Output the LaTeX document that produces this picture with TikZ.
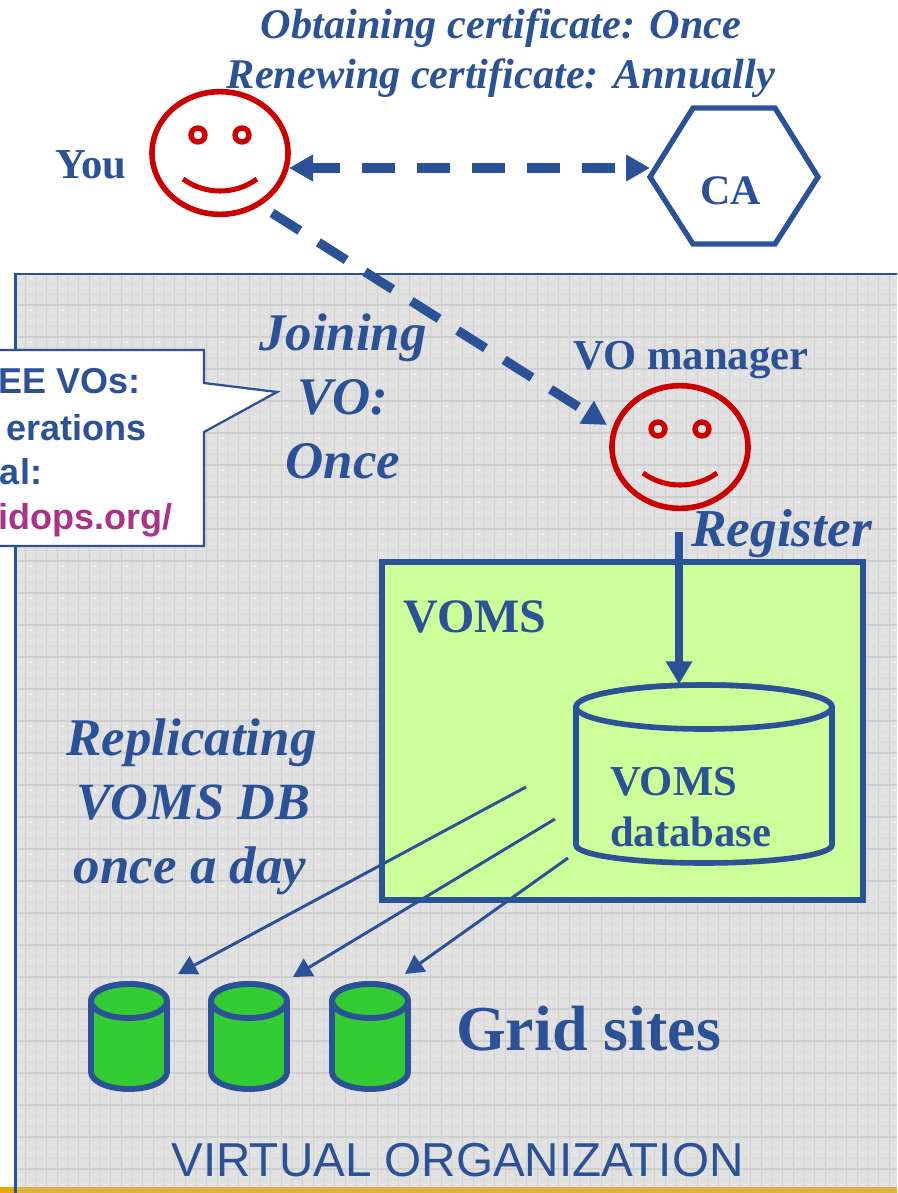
\documentclass[tikz,border=0pt]{standalone}
\usepackage{fontspec}
\setmainfont{Liberation Serif}
\setsansfont{Liberation Sans}
\usetikzlibrary{arrows.meta,shapes.geometric}
\definecolor{bl}{HTML}{2B5297}
\definecolor{rd}{HTML}{CC0000}
\definecolor{mg}{HTML}{AA3388}
\definecolor{lime}{HTML}{CCFF99}
\definecolor{grn}{HTML}{33CC33}
\definecolor{bgg}{HTML}{E1E1E1}
\definecolor{gweak}{HTML}{DBDBDB}
\definecolor{gstrong}{HTML}{D0D0D0}
\definecolor{barL}{HTML}{EBA900}
\definecolor{barR}{HTML}{DDB33F}
\newcommand{\fsz}[1]{\fontsize{#1}{#1}\selectfont}
\tikzset{
  txt/.style={text=bl,inner sep=0pt,outer sep=0pt,anchor=base,align=center},
  ser/.style={txt,font=\rmfamily\bfseries},
  seri/.style={txt,font=\rmfamily\bfseries\itshape},
  san/.style={txt,font=\sffamily\bfseries\fsz{27pt}},
  face/.style={draw=rd,line width=4.2pt,ellipse,minimum width=102pt,minimum height=92pt,inner sep=0pt},
  eye/.style={draw=rd,line width=4pt,circle,minimum size=10.5pt,inner sep=0pt},
  mouth/.style={draw=rd,line width=3.8pt},
  dashline/.style={draw=bl,line width=7pt,dash pattern=on 24.7pt off 16.5pt,
     -{Triangle[length=18pt,width=19pt]}},
  thinarrow/.style={draw=bl,line width=2.2pt,-{Triangle[length=14pt,width=15pt]}},
  thickarrow/.style={draw=bl,line width=6pt,-{Triangle[length=17pt,width=19pt]}},
  dbshape/.style={draw=bl,line width=4.2pt,fill=lime},
  site/.style={draw=bl,line width=4.4pt,fill=grn},
}
\newcommand{\smiley}[3]{%
  \node[face] (#1) at (#2,#3) {};
  \node[eye] (#1eyeL) at (#2-22,#3-18) {};
  \node[eye] (#1eyeR) at (#2+22,#3-18) {};
  \draw[mouth] (#2-37,#3+26) .. controls (#2-15,#3+42) and (#2+15,#3+42) .. (#2+37,#3+26);
}
\newcommand{\sitecyl}[2]{%
  \draw[site] (#1-38,1001) -- (#1-38,1072) arc[start angle=180,end angle=0,x radius=38,y radius=17] -- (#1+38,1001)
     arc[start angle=0,end angle=-180,x radius=38,y radius=17] -- cycle;
  \draw[site] (#1,1001) ellipse[x radius=38,y radius=17];
  \coordinate (#2) at (#1,1001);
}
\begin{document}
\begin{tikzpicture}[x=.75pt,y=-.75pt]
\useasboundingbox (0,0) rectangle (897,1193);
\clip (0,0) rectangle (897,1193);
% background panel
\fill[bgg] (15,273) rectangle (897,1193);
\begin{scope}
\clip (15,273) rectangle (897,1193);
\foreach \k in {-1,...,82}{
  \pgfmathtruncatemacro{\m}{mod(\k+3,3)}
  \ifnum\m=1
    \draw[gweak,line width=.8pt] ({25.3+10.667*\k},273) -- ++(0,920);
  \else
    \draw[gstrong,line width=1pt] ({25.3+10.667*\k},273) -- ++(0,920);
  \fi
}
\foreach \k in {0,...,86}{
  \pgfmathtruncatemacro{\m}{mod(\k,3)}
  \ifnum\m=2
    \draw[gstrong,line width=1.1pt] (15,{283.67+10.667*\k}) -- ++(882,0);
  \else
    \draw[gweak,line width=.8pt] (15,{283.67+10.667*\k}) -- ++(882,0);
  \fi
  \draw[white,opacity=.55,line width=.8pt,dash pattern=on 1pt off 7pt] (19.5,{278+10.667*\k}) -- ++(877,0);
}
\end{scope}
% bottom bar
\fill[barL] (0,1187) rectangle (15,1193);
\fill[barR] (15,1187) rectangle (897,1193);
\draw[bl,line width=2pt] (15.5,1193) -- (15.5,274) -- (897,274);
% callout
\draw[bl,line width=1.7pt,fill=white] (-5,350) -- (204,350) -- (204,383) -- (277,392) -- (204,432) -- (204,546) -- (-5,546) -- cycle;
\node[san,anchor=base east] (c1) at (141,393) {EE VOs:};
\node[san,anchor=base east] (c2) at (147,440) {erations};
\node[san,anchor=base east] (c3) at (42,484) {al:};
\node[san,anchor=base east,text=mg] (c4) at (172,529) {idops.org/};
% titles
\node[seri,font=\rmfamily\bfseries\itshape\fsz{31.7pt}] (t1) at (501,38) {Obtaining certificate: Once};
\node[seri,font=\rmfamily\bfseries\itshape\fsz{31.7pt}] (t2) at (501,88) {Renewing certificate: Annually};
\node[ser,font=\rmfamily\bfseries\fsz{32pt}] (younm) at (91,178) {You};
% faces
\smiley{you}{220}{153}
\smiley{mgr}{680}{447}
% CA
\draw[bl,line width=4pt,fill=white] (650,177) -- (693,108) -- (775,108) -- (818,177) -- (775,244) -- (693,244) -- cycle;
\node[ser,font=\rmfamily\bfseries\fsz{31.5pt}] (ca) at (730.5,204) {CA};
\coordinate (youR) at (289,168);
\coordinate (caL) at (650,168);
\coordinate (youD) at (272,213);
\coordinate (mgrL) at (607,425);
\draw[dashline,{Triangle[length=18pt,width=19pt]}-{Triangle[length=18pt,width=19pt]},dash phase=3pt] (youR) -- (caL);
\draw[dashline] (youD) -- (mgrL);
% labels
\node[seri,font=\rmfamily\bfseries\itshape\fsz{39.7pt}] (j1) at (343,350) {Joining};
\node[seri,font=\rmfamily\bfseries\itshape\fsz{39.7pt}] (j2) at (343,414) {VO:};
\node[seri,font=\rmfamily\bfseries\itshape\fsz{39.7pt}] (j3) at (343,478) {Once};
\node[ser,font=\rmfamily\bfseries\fsz{32pt}] (vm) at (691,369) {VO manager};
% VOMS box
\draw[bl,line width=4pt,fill=lime] (382,562) rectangle (863,900);
\node[ser,font=\rmfamily\bfseries\fsz{36pt}] (vt) at (475,632) {VOMS};
% VOMS database
\draw[dbshape] (576,707) -- (576,845) arc[start angle=180,end angle=0,x radius=128,y radius=18] -- (832,707)
   arc[start angle=0,end angle=-180,x radius=128,y radius=22] -- cycle;
\draw[dbshape] (704,707) ellipse[x radius=128,y radius=22];
\node[ser,font=\rmfamily\bfseries\fsz{32pt},anchor=base west] (d1) at (610,795) {VOMS};
\node[ser,font=\rmfamily\bfseries\fsz{32pt},anchor=base west] (d2) at (610,846) {database};
\coordinate (regS) at (679,532);
\coordinate (dbT) at (679,684);
\draw[thickarrow] (regS) -- (dbT);
\node[seri,font=\rmfamily\bfseries\itshape\fsz{40pt}] (reg) at (781.5,546) {Register};
% replicate
\node[seri,font=\rmfamily\bfseries\itshape\fsz{39.7pt}] (r1) at (191.5,755) {Replicating};
\node[seri,font=\rmfamily\bfseries\itshape\fsz{39.2pt}] (r2) at (193,819) {VOMS DB};
\node[seri,font=\rmfamily\bfseries\itshape\fsz{39.7pt}] (r3) at (190,883) {once a day};
% sites
\sitecyl{129}{s1}
\sitecyl{249}{s2}
\sitecyl{370}{s3}
\coordinate (a1s) at (526,787);
\coordinate (a2s) at (555,819);
\coordinate (a3s) at (568,858);
\coordinate (a1e) at (178,974);
\coordinate (a2e) at (293,977);
\coordinate (a3e) at (405,974);
\draw[thinarrow] (a1s) -- (a1e);
\draw[thinarrow] (a2s) -- (a2e);
\draw[thinarrow] (a3s) -- (a3e);
\node[ser,font=\rmfamily\bfseries\fsz{48pt}] (gs) at (588.5,1050) {Grid sites};
\node[txt,font=\sffamily\fsz{35.7pt}] (vo) at (457.5,1176) {VIRTUAL ORGANIZATION};
\end{tikzpicture}
\end{document}
